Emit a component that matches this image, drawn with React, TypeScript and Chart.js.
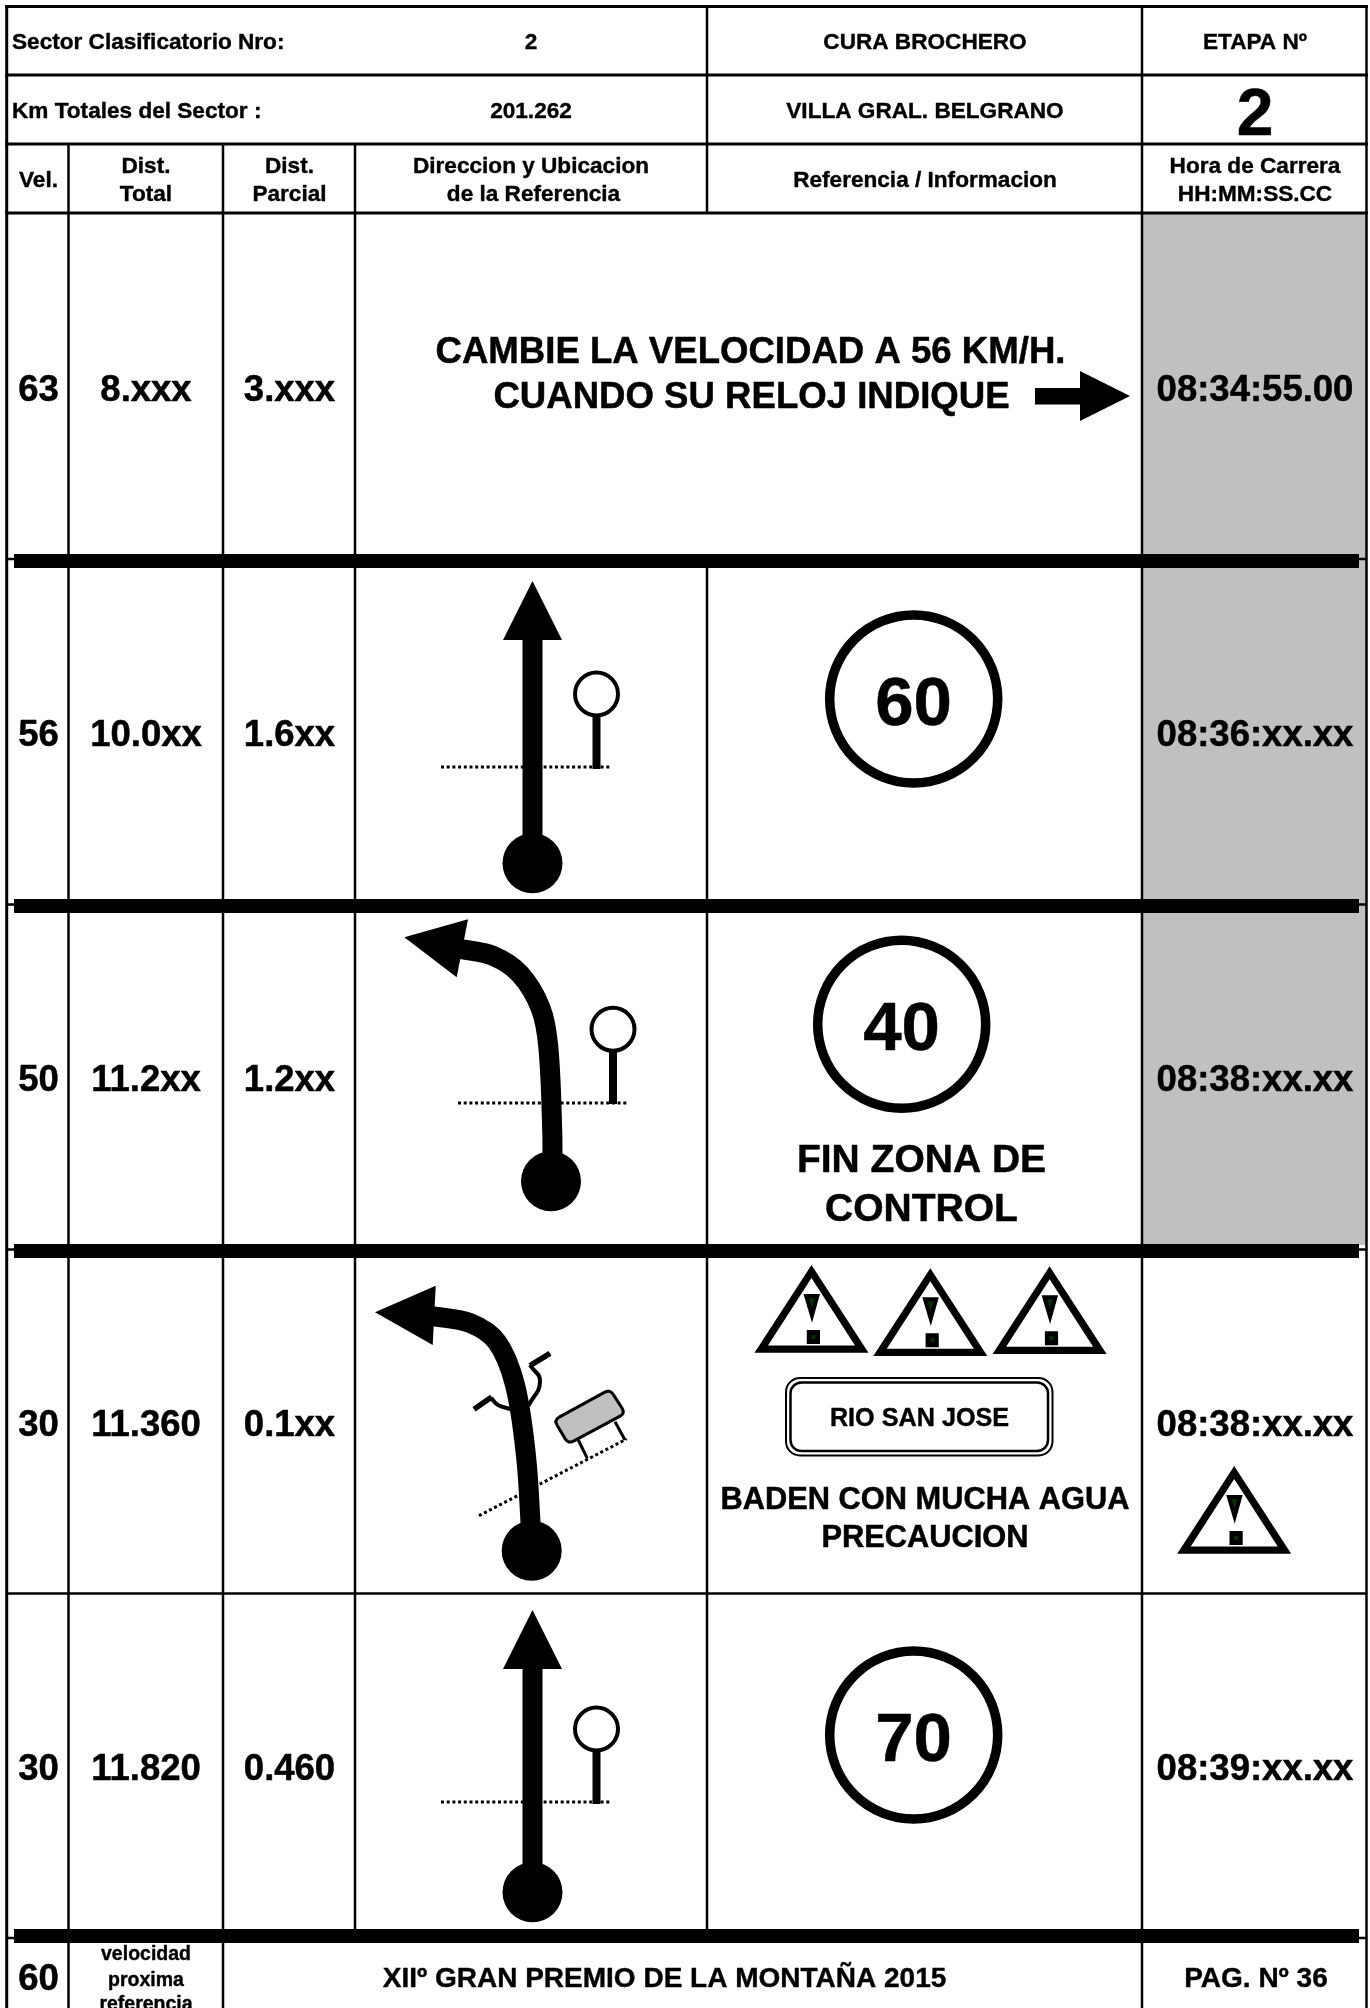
import React, { useEffect, useRef } from "react";
import { Chart, registerables } from "chart.js";

Chart.register(...registerables);

// ---------- values read from the road book ----------
const velocities = ["63", "56", "50", "30", "30"];
const totalDistances = ["8.xxx", "10.0xx", "11.2xx", "11.360", "11.820"];
const partialDistances = ["3.xxx", "1.6xx", "1.2xx", "0.1xx", "0.460"];
const raceTimes = ["08:34:55.00", "08:36:xx.xx", "08:38:xx.xx", "08:38:xx.xx", "08:39:xx.xx"];
const speedSigns = ["60", "40", "70"];
const instructionLines = ["CAMBIE LA VELOCIDAD A 56 KM/H.", "CUANDO SU RELOJ INDIQUE"];
const endZoneLines = ["FIN ZONA DE", "CONTROL"];
const warningLines = ["BADEN CON MUCHA AGUA", "PRECAUCION"];
const placeName = "RIO SAN JOSE";
const nextSpeedLines = ["velocidad", "proxima", "referencia"];

// ---------- layout (page units) ----------
const W = 1370;
const H = 2008;
const colX = [6.7, 68.5, 223, 355, 707, 1142, 1366.5];
const colCenter = { vel: 38.5, total: 146, partial: 289.5, time: 1255, ref: 925, dir: 531 };
const rowCenter = [388, 732.5, 1078, 1422.5, 1767];
const headerLines = [6.5, 75, 144, 213];
const thinLines = [559, 904.5, 1249.5, 1593.5, 1938];
const thickBars = [561, 906, 1251, 1936];
const straightOffsets = [0, 1029];
const postOffsets = [0, 1035];
const triangleApexes: [number, number][] = [[811.5, 1265], [930.3, 1268.3], [1049.6, 1266.3], [1234.2, 1466]];

type P = [number, number];
const pts = (a: P[]) => a.map(([x, y]) => ({ x, y }));

function roundCorners(a: P[], r: number): P[] {
  const out: P[] = [];
  a.forEach((c, i) => {
    const p = a[(i + a.length - 1) % a.length];
    const n = a[(i + 1) % a.length];
    const dp = Math.hypot(p[0] - c[0], p[1] - c[1]);
    const dn = Math.hypot(n[0] - c[0], n[1] - c[1]);
    const s: P = [c[0] + ((p[0] - c[0]) * r) / dp, c[1] + ((p[1] - c[1]) * r) / dp];
    const e: P = [c[0] + ((n[0] - c[0]) * r) / dn, c[1] + ((n[1] - c[1]) * r) / dn];
    for (let t = 0; t <= 1.001; t += 0.25) {
      out.push([
        (1 - t) * (1 - t) * s[0] + 2 * t * (1 - t) * c[0] + t * t * e[0],
        (1 - t) * (1 - t) * s[1] + 2 * t * (1 - t) * c[1] + t * t * e[1],
      ]);
    }
  });
  out.push(out[0]);
  return out;
}

function buildDatasets() {
  const ds: any[] = [];
  const line = (a: P[], width: number, color = "#000", extra: any = {}) =>
    ds.push({ data: pts(a), showLine: true, borderWidth: width, borderColor: color, pointRadius: 0, fill: false, ...extra });
  const poly = (a: P[], color = "#000", borderWidth = 0, borderColor = "#000") =>
    ds.push({ data: pts([...a, a[0]]), showLine: true, fill: "shape", backgroundColor: color, borderColor, borderWidth, pointRadius: 0 });
  const disc = (x: number, y: number, r: number, color = "#000", bw = 0) =>
    ds.push({ data: [{ x, y }], showLine: false, pointRadius: r, pointBackgroundColor: color, pointBorderColor: "#000", pointBorderWidth: bw });

  // shaded time cells
  poly([[1143, 213], [1366, 213], [1366, 1245], [1143, 1245]], "#c0c0c0");

  // table rules
  headerLines.forEach((y) => line([[colX[0] - 1.5, y], [colX[6] + 1.5, y]], 3));
  line([[colX[0], 5], [colX[0], H]], 3);
  line([[colX[6], 5], [colX[6], H]], 2.5);
  line([[colX[1], 144], [colX[1], H]], 2.5);
  line([[colX[2], 144], [colX[2], H]], 2.5);
  line([[colX[3], 144], [colX[3], 1930]], 2.5);
  line([[colX[4], 6], [colX[4], 213]], 2.5);
  line([[colX[4], 559], [colX[4], 1930]], 2.5);
  line([[colX[5], 6], [colX[5], H]], 2.5);
  thinLines.forEach((y) => line([[colX[0], y], [colX[6], y]], 2.5));
  thickBars.forEach((y) => line([[14, y], [1359, y]], 14));

  // instruction arrow
  poly([[1035, 388], [1080, 388], [1080, 371], [1130, 396], [1080, 421], [1080, 404.5], [1035, 404.5]]);

  // straight-on diagrams
  straightOffsets.forEach((dy, i) => {
    const py = postOffsets[i];
    line([[441, 767 + py], [610, 767 + py]], 3, "#000", { borderDash: [3, 2.7] });
    line([[532.5, 639 + dy], [532.5, 863 + dy]], 20);
    poly([[532.5, 581 + dy], [562, 640 + dy], [503, 640 + dy]]);
    disc(532.5, 863.3 + dy, 30);
    line([[596.5, 712 + py], [596.5, 769 + py]], 8);
    disc(596.5, 694 + py, 21.5, "#fff", 4);
  });

  // left bend diagram
  line([[458, 1103], [627, 1103]], 3, "#000", { borderDash: [3, 2.7] });
  line([[461, 949], [493.3, 956], [520, 974], [540.7, 1008.3], [548.3, 1046.7], [552.3, 1133], [552.3, 1170]], 20, "#000", { tension: 0.35 });
  poly([[404.3, 937.3], [468, 919.3], [456.7, 977.3]]);
  disc(551, 1181.3, 30);
  line([[613, 1048], [613, 1104]], 8);
  disc(613, 1029.3, 21.5, "#fff", 4);

  // crossing diagram
  line([[479, 1515.7], [626.7, 1439]], 3, "#000", { borderDash: [3, 2.7] });
  line([[474, 1409.3], [491.7, 1397]], 5.5);
  line([[491, 1398], [498, 1405], [511.7, 1409.3]], 4, "#000", { tension: 0.4 });
  line([[550, 1353.3], [530, 1365.7]], 5.5);
  line([[530, 1365], [540, 1381.7], [528.3, 1406]], 4, "#000", { tension: 0.5 });
  line([[578.3, 1440], [587.3, 1458.3]], 3);
  line([[615, 1421.7], [625, 1440]], 3);
  line([[432, 1316], [470, 1323], [497, 1342], [515, 1385], [526, 1456], [531, 1530]], 20, "#000", { tension: 0.35 });
  poly([[375, 1312.3], [435.7, 1285.7], [432.7, 1345]]);
  disc(531.7, 1550.7, 30);
  const bench = roundCorners([[554, 1420], [610, 1389.3], [625.3, 1413.3], [568.3, 1444]], 6);
  poly(bench.slice(0, -1), "#c0c0c0", 3);

  // speed signs
  disc(913.7, 699, 84, "#fff", 9.5);
  disc(901.7, 1024.3, 84, "#fff", 9.5);
  disc(913.7, 1735, 84, "#fff", 9.5);

  // warning triangles
  triangleApexes.forEach(([ax, ay]) => {
    const t = (a: P[]): P[] => a.map(([x, y]) => [ax + x, ay + y]);
    poly(t([[0, 0], [57, 87.7], [-57, 87.7]]));
    poly(t([[0, 13], [43.5, 80.5], [-43.5, 80.5]]), "#fff");
    poly(t([[-8, 29], [8.5, 29], [0.5, 57.7]]));
    poly(t([[-2.5, 33], [3, 33], [0.3, 43]]), "#003300");
    poly(t([[-4.7, 65], [8.5, 65], [8.5, 79], [-4.7, 79]]));
    poly(t([[0, 70], [4, 70], [4, 74], [0, 74]]), "#003300");
  });

  ds.forEach((d, i) => (d.order = ds.length - i));
  return ds;
}

type T = [string, number, number, number, CanvasTextAlign?];

function buildTexts(): T[] {
  const out: T[] = [];
  const h = 22.6;
  out.push(["Sector Clasificatorio Nro:", 12, 41, h, "left"]);
  out.push(["2", colCenter.dir, 41, h]);
  out.push(["CURA BROCHERO", colCenter.ref, 41, h]);
  out.push(["ETAPA Nº", colCenter.time, 41, h]);
  out.push(["Km Totales del Sector :", 12, 110, h, "left"]);
  out.push(["201.262", colCenter.dir, 110, h]);
  out.push(["VILLA GRAL. BELGRANO", colCenter.ref, 110, h]);
  out.push(["2", colCenter.time, 111, 66]);
  out.push(["Vel.", colCenter.vel, 179, h]);
  out.push(["Dist.", colCenter.total, 165, h]);
  out.push(["Total", colCenter.total, 193, h]);
  out.push(["Dist.", colCenter.partial, 165, h]);
  out.push(["Parcial", colCenter.partial, 193, h]);
  out.push(["Direccion y Ubicacion", colCenter.dir, 165, h]);
  out.push(["de la Referencia", colCenter.dir + 2.5, 193, h]);
  out.push(["Referencia / Informacion", colCenter.ref, 179, h]);
  out.push(["Hora de Carrera", colCenter.time, 165, h]);
  out.push(["HH:MM:SS.CC", colCenter.time, 193, h]);

  const b = 36.5;
  rowCenter.forEach((y, i) => {
    out.push([velocities[i], colCenter.vel, y, b]);
    out.push([totalDistances[i], colCenter.total, y, b]);
    out.push([partialDistances[i], colCenter.partial, y, b]);
    out.push([raceTimes[i], colCenter.time, y, b]);
  });

  out.push([instructionLines[0], 750.5, 349.5, 36.6]);
  out.push([instructionLines[1], 751.5, 394.5, 36.6]);
  out.push([speedSigns[0], 913.5, 700.5, 69]);
  out.push([speedSigns[1], 901.5, 1025.5, 69]);
  out.push([speedSigns[2], 913.5, 1736.5, 69]);
  out.push([endZoneLines[0], 921.5, 1158.5, 39]);
  out.push([endZoneLines[1], 921.5, 1207.5, 39]);
  out.push([placeName, 919.5, 1417, 25.2]);
  out.push([warningLines[0], 925, 1498, 30.8]);
  out.push([warningLines[1], 925, 1536, 30.8]);

  out.push(["60", colCenter.vel, 1977, b]);
  out.push([nextSpeedLines[0], colCenter.total, 1953, 19.5]);
  out.push([nextSpeedLines[1], colCenter.total, 1979, 19.5]);
  out.push([nextSpeedLines[2], colCenter.total, 2003, 19.5]);
  out.push(["XIIº GRAN PREMIO DE LA MONTAÑA 2015", 664.5, 1977, 28]);
  out.push(["PAG. Nº 36", 1256, 1977, 28]);
  return out;
}

const pagePlugin = {
  id: "roadbookPage",
  beforeDraw(chart: any) {
    const { ctx } = chart;
    ctx.save();
    ctx.fillStyle = "#fff";
    ctx.fillRect(0, 0, chart.width, chart.height);
    ctx.restore();
  },
  afterDatasetsDraw(chart: any) {
    const { ctx } = chart;
    const sx = chart.scales.x;
    const sy = chart.scales.y;
    ctx.save();
    ctx.strokeStyle = "#000";
    const rr = (x0: number, y0: number, x1: number, y1: number, r: number, lw: number) => {
      ctx.lineWidth = lw;
      ctx.beginPath();
      const px = sx.getPixelForValue(x0);
      const py = sy.getPixelForValue(y0);
      ctx.roundRect(px, py, sx.getPixelForValue(x1) - px, sy.getPixelForValue(y1) - py, r);
      ctx.stroke();
    };
    rr(786, 1378, 1052.5, 1455.5, 14, 2);
    rr(790.5, 1382.5, 1048, 1451, 11, 2.5);
    ctx.fillStyle = "#000";
    ctx.textBaseline = "alphabetic";
    ctx.lineJoin = "round";
    buildTexts().forEach(([s, x, y, size, align]) => {
      ctx.font = `bold ${size}px "Liberation Sans"`;
      ctx.textAlign = align || "center";
      const px = sx.getPixelForValue(x);
      const py = sy.getPixelForValue(y) + size * 0.358;
      ctx.lineWidth = size > 30 ? 0.5 : 0.4;
      ctx.strokeText(s, px, py);
      ctx.fillText(s, px, py);
    });
    ctx.restore();
  },
};

export default function App() {
  const ref = useRef<HTMLCanvasElement>(null);
  useEffect(() => {
    document.body.style.margin = "0";
    const chart = new Chart(ref.current as HTMLCanvasElement, {
      type: "scatter",
      data: { datasets: buildDatasets() },
      options: {
        animation: false,
        responsive: false,
        clip: false,
        layout: { padding: 0, autoPadding: false },
        scales: {
          x: { type: "linear", min: 0, max: W, display: false },
          y: { type: "linear", min: 0, max: H, reverse: true, display: false },
        },
        plugins: { legend: { display: false }, tooltip: { enabled: false } },
      } as any,
      plugins: [pagePlugin],
    } as any);
    return () => chart.destroy();
  }, []);
  return <canvas ref={ref} width={W} height={H} style={{ display: "block", width: W, height: H }} />;
}
